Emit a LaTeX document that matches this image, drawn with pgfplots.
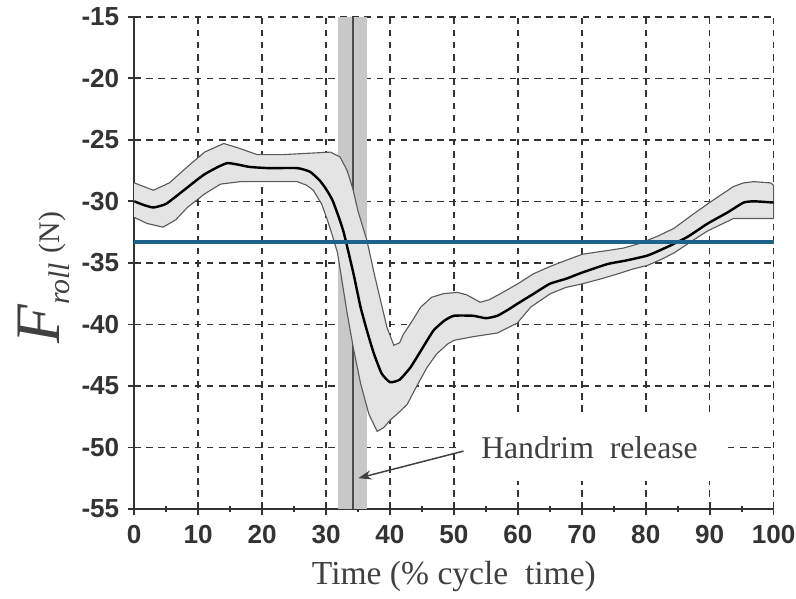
\documentclass[border=0pt]{standalone}
\usepackage{fontspec}
\setmainfont{Liberation Serif}
\newfontfamily\arial{Liberation Sans}
\usepackage{pgfplots}
\pgfplotsset{compat=1.18}
\usetikzlibrary{arrows.meta}
\definecolor{meanblue}{RGB}{28,98,138}
\definecolor{bandfill}{RGB}{228,228,228}
\definecolor{bandedge}{RGB}{90,90,90}
\definecolor{relband}{RGB}{200,200,200}

\pgfplotsset{frame/.style={
  scale only axis,
  width=343pt, height=264pt,
  xmin=0, xmax=100, ymin=-55, ymax=-15,
  clip=false,
}}

\begin{document}
\begin{tikzpicture}

% axis, grid, release band and white box
\begin{axis}[
  frame, name=ax,
  axis x line=bottom, axis y line=left,
  axis line style={-, line width=0.9pt, draw=black!80},
  xtick={0,10,...,100},
  xticklabels={0,10,20,30,40,50,60,70,80,90,100},
  minor xtick={5,15,...,95},
  ytick={-55,-50,...,-15},
  yticklabels={-55,-50,-45,-40,-35,-30,-25,-20,-15},
  tick align=center,
  major tick length=7pt, minor tick length=3pt,
  tick style={line width=0.9pt, black!80},
  ticklabel style={font=\arial\bfseries\fontsize{14}{16}\selectfont, text=black!80},
  xticklabel style={yshift=-2pt},
  yticklabel style={xshift=-1pt},
  grid=major,
  major grid style={dashed, black!80, line width=0.8pt, dash pattern=on 3.5pt off 3pt},
]
\addplot[fill=relband, draw=none] coordinates {(31.9,-55) (36.4,-55) (36.4,-15) (31.9,-15)} -- cycle;
\addplot[black!70, line width=1.1pt] coordinates {(34.2,-55) (34.2,-15)};
\addplot[fill=white, draw=none] coordinates {(50.7,-47.4) (92,-47.4) (92,-52.7) (50.7,-52.7)} -- cycle;
\end{axis}

% curves on top
\begin{axis}[frame, hide axis]
% confidence region: upper edge, then lower edge reversed
\addplot[fill=bandfill, draw=none] coordinates {
(0,-28.5) (3,-29.1) (5.5,-28.5) (8.3,-27.2) (11,-26.0) (14,-25.3) (16.5,-25.7)
(19.2,-26.2) (23.4,-26.2) (27,-26.1) (30.7,-26.0) (32.2,-26.4) (33.3,-27.5)
(34.2,-29.0) (35,-30.8) (36.4,-33.2) (37.5,-35.8) (38.5,-38.0) (39.5,-40.2)
(40.6,-41.7) (41.5,-41.5) (42.1,-40.8) (43.5,-39.7) (44.8,-38.6) (46.5,-37.8)
(48.4,-37.5) (50.5,-37.4) (52,-37.6) (54.1,-38.2) (55.5,-38.0) (57.3,-37.5)
(60,-36.7) (62.4,-35.9) (65,-35.3) (67.5,-34.8) (70.1,-34.3) (74,-34.0)
(76.5,-33.8) (79.2,-33.4) (82,-32.8) (84.4,-32.2) (87,-31.2) (89.7,-30.2)
(91.7,-29.5) (93.7,-28.8) (95.3,-28.5) (96.9,-28.4) (99.5,-28.5) (100,-28.7)
(100,-31.4) (96,-31.4) (93.7,-31.4) (91.7,-31.9) (89.7,-32.4) (87,-33.3)
(84.4,-34.2) (82.5,-34.7) (80.3,-35.2) (78,-35.5) (75.6,-35.9) (73,-36.3)
(70.1,-36.7) (67.5,-37.0) (65.1,-37.5) (62,-38.6) (59.9,-39.9) (56.8,-40.7)
(53,-41.0) (50,-41.3) (49,-41.6) (47.3,-42.4) (45.8,-43.5) (44.2,-45.0)
(42.7,-46.5) (41.3,-47.2) (40,-47.8) (39,-48.4) (38,-48.7) (36.7,-47.3)
(35.4,-44.8) (34.3,-42.0) (33.3,-39.1) (31.8,-34.2) (31,-32.8) (30.2,-31.5)
(29.3,-30.2) (28,-29.1) (27,-28.7) (25.5,-28.4) (21,-28.4) (16.6,-28.4)
(13.5,-28.6) (11,-29.4) (8.3,-30.5) (6.5,-31.5) (4.5,-32.1) (2,-31.8) (0,-31.3)
} -- cycle;
\addplot[draw=bandedge, line width=0.6pt] coordinates {
(0,-28.5) (3,-29.1) (5.5,-28.5) (8.3,-27.2) (11,-26.0) (14,-25.3) (16.5,-25.7)
(19.2,-26.2) (23.4,-26.2) (27,-26.1) (30.7,-26.0) (32.2,-26.4) (33.3,-27.5)
(34.2,-29.0) (35,-30.8) (36.4,-33.2) (37.5,-35.8) (38.5,-38.0) (39.5,-40.2)
(40.6,-41.7) (41.5,-41.5) (42.1,-40.8) (43.5,-39.7) (44.8,-38.6) (46.5,-37.8)
(48.4,-37.5) (50.5,-37.4) (52,-37.6) (54.1,-38.2) (55.5,-38.0) (57.3,-37.5)
(60,-36.7) (62.4,-35.9) (65,-35.3) (67.5,-34.8) (70.1,-34.3) (74,-34.0)
(76.5,-33.8) (79.2,-33.4) (82,-32.8) (84.4,-32.2) (87,-31.2) (89.7,-30.2)
(91.7,-29.5) (93.7,-28.8) (95.3,-28.5) (96.9,-28.4) (99.5,-28.5) (100,-28.7)
(100,-31.4)
};
\addplot[draw=bandedge, line width=0.6pt] coordinates {
(0,-31.3) (2,-31.8) (4.5,-32.1) (6.5,-31.5) (8.3,-30.5) (11,-29.4) (13.5,-28.6)
(16.6,-28.4) (21,-28.4) (25.5,-28.4) (27,-28.7) (28,-29.1) (29.3,-30.2)
(30.2,-31.5) (31,-32.8) (31.8,-34.2) (33.3,-39.1) (34.3,-42.0) (35.4,-44.8)
(36.7,-47.3) (38,-48.7) (39,-48.4) (40,-47.8) (41.3,-47.2) (42.7,-46.5)
(44.2,-45.0) (45.8,-43.5) (47.3,-42.4) (49,-41.6) (50,-41.3) (53,-41.0)
(56.8,-40.7) (59.9,-39.9) (62,-38.6) (65.1,-37.5) (67.5,-37.0) (70.1,-36.7)
(73,-36.3) (75.6,-35.9) (78,-35.5) (80.3,-35.2) (82.5,-34.7) (84.4,-34.2)
(87,-33.3) (89.7,-32.4) (91.7,-31.9) (93.7,-31.4) (96,-31.4) (100,-31.4)
};

% mean
\addplot[black, line width=1.3pt, smooth, tension=0.3] coordinates {
(0,-30.0) (1.5,-30.3) (3,-30.5) (5,-30.2) (8,-29.0) (11,-27.8) (14.5,-26.9)
(18,-27.2) (21,-27.3) (25.5,-27.3) (27.5,-27.6) (29,-28.3) (30,-29.0) (31,-29.9)
(32,-31.3) (32.8,-32.6) (34.3,-35.9) (35.4,-38.6) (36.5,-40.7) (37.5,-42.4)
(38.7,-44.0) (40,-44.7) (41.5,-44.5) (43.2,-43.5) (45,-42.0) (46.8,-40.5)
(48.5,-39.7) (50,-39.3) (53,-39.3) (55,-39.5) (56.8,-39.3) (58.5,-38.8)
(60,-38.3) (62.5,-37.5) (65,-36.7) (67.5,-36.3) (70,-35.8) (74,-35.1)
(77,-34.8) (80.3,-34.4) (83.4,-33.7) (86.5,-32.9) (89.7,-31.8) (92.8,-30.9)
(95.3,-30.1) (97,-30.0) (100,-30.1)
};

% overall mean level
\addplot[meanblue, line width=2.6pt] coordinates {(0,-33.3) (100,-33.3)};

% annotation
\draw[-{Stealth[length=7pt,width=5pt]}, line width=0.8pt, black!75]
  (axis cs:51.5,-50.3) -- (axis cs:35.05,-52.5);
\node[font=\fontsize{17}{19}\selectfont, text=black!75] at (axis cs:71.2,-50.0)
  {Handrim\ \ release};
\end{axis}

\node[font=\fontsize{18}{20}\selectfont, text=black!75] at ([yshift=-36pt]ax.south)
  {Time (\%\ cycle\ \ time)};
\node[rotate=90, anchor=base, text=black!75] at ([shift={(-40pt,124pt)}]ax.south west)
  {{\fontsize{34}{36}\selectfont\itshape F}\raisebox{-1.1ex}{\fontsize{16}{18}\selectfont\itshape roll}\ \ {\fontsize{16}{18}\selectfont(N)}};

\pgfresetboundingbox
\path ([shift={(-72pt,-48pt)}]ax.south west) rectangle ([shift={(12pt,9pt)}]ax.north east);
\end{tikzpicture}
\end{document}
